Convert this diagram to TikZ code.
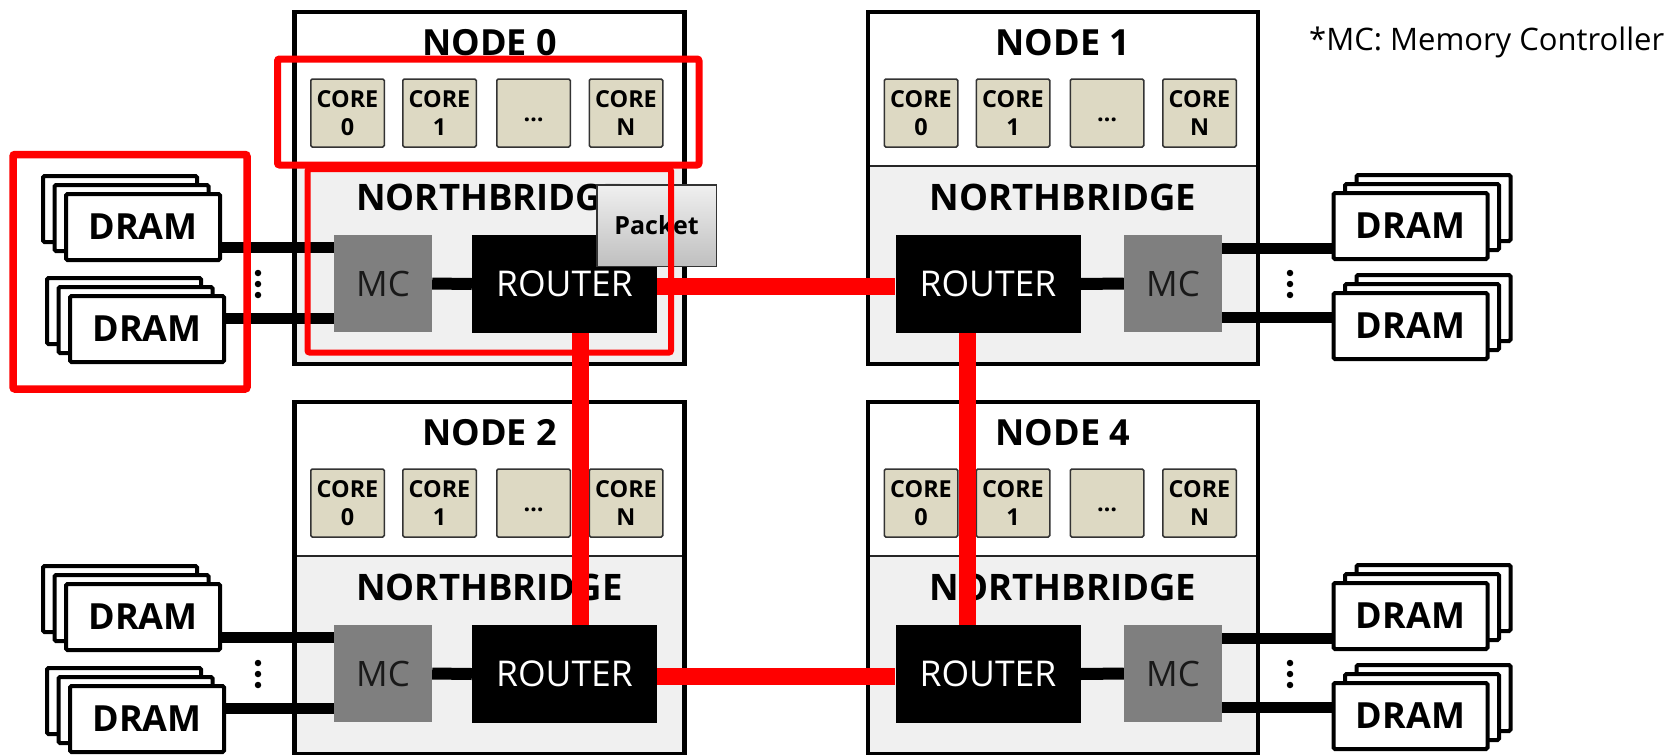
\documentclass[tikz,border=0pt]{standalone}
\usepackage{fontspec}
\setmainfont{Open Sans}
\usetikzlibrary{calc}
\definecolor{nbgray}{HTML}{F0F0F0}
\definecolor{mcgray}{HTML}{7F7F7F}
\definecolor{corefill}{HTML}{DDD9C3}
\definecolor{linkred}{HTML}{FF0000}
\tikzset{
  nodebox/.style={fill=white, minimum width=390pt, minimum height=352pt, inner sep=0pt},
  boxborder/.style={draw=black, line width=4.5pt},
  divline/.style={draw=black!85, line width=2pt},
  nodetitle/.style={font=\fontsize{36}{40}\selectfont\bfseries, inner sep=0pt},
  nbtitle/.style={font=\fontsize{36.5}{40}\selectfont\bfseries, inner sep=0pt},
  corebox/.style={draw=black!80, line width=1.5pt, fill=corefill, minimum width=73.5pt, minimum height=68pt, inner sep=0pt, rounded corners=1.5pt, align=center, font=\fontsize{23.4}{28.4}\selectfont\bfseries},
  coredots/.style={inner sep=0pt, font=\fontsize{23.4}{28.4}\selectfont\bfseries},
  mcbox/.style={fill=mcgray, minimum width=98pt, minimum height=97pt, inner sep=0pt, text=black!90, font=\fontsize{35}{40}\selectfont},
  routerbox/.style={fill=black, minimum width=185pt, minimum height=98pt, inner sep=0pt, text=white, font=\fontsize{35.5}{40}\selectfont},
  dramcard/.style={draw=black, line width=4pt, fill=white, minimum width=154pt, minimum height=66pt, inner sep=0pt, rounded corners=1.5pt, font=\fontsize{36}{40}\selectfont\bfseries},
  busline/.style={line width=11pt, draw=black},
  innerlink/.style={line width=12pt, draw=black},
  redlink/.style={line width=17pt, draw=linkred},
  redbox/.style={draw=linkred, rounded corners=2pt},
  dotmark/.style={circle, fill=black, inner sep=0pt, minimum size=6.5pt},
  packetbox/.style={draw=black!80, line width=1.5pt, top color=black!6, bottom color=black!25, minimum width=119.5pt, minimum height=81.5pt, inner sep=0pt, font=\fontsize{25}{30}\selectfont\bfseries},
  legendtext/.style={inner sep=0pt, font=\fontsize{31}{36}\selectfont},
}
\newcommand\leftsys[3]{%
\begin{scope}[shift={(0,#1)}]
  \node[nodebox] (#2box) at (489.5,188) {};
  \fill[nbgray] (294.5,166) rectangle (684.5,364);
  \draw[divline] (294.5,166) -- (684.5,166);
  \draw[boxborder] (#2box.north west) rectangle (#2box.south east);
  \node[nodetitle, anchor=base] (#2title) at (489.5,55) {NODE #3};
  \node[corebox] (#2c0) at (347.5,113) {CORE\\0};
  \node[corebox] (#2c1) at (439.5,113) {CORE\\1};
  \node[corebox] (#2c2) at (533.5,113) {};
  \node[coredots] (#2cd) at (533.5,120) {…};
  \node[corebox] (#2cn) at (626,113) {CORE\\N};
  \node[nbtitle, anchor=base] (#2nb) at (489.5,210.5) {NORTHBRIDGE};
  \node[mcbox] (#2mc) at (383,283.5) {MC};
  \node[routerbox] (#2r) at (564.5,284) {ROUTER};
  \draw[innerlink] (#2mc.east) -- (#2r.west);
  \node[dramcard] (#2ua) at (120,209) {};
  \node[dramcard] (#2ub) at (131.5,218) {};
  \node[dramcard] (#2uc) at (143,227) {DRAM};
  \node[dramcard] (#2la) at (124,311) {};
  \node[dramcard] (#2lb) at (135.5,320) {};
  \node[dramcard] (#2lc) at (147,329) {DRAM};
  \draw[busline] (#2uc.east |- 0,247.5) -- (#2mc.west |- 0,247.5);
  \draw[busline] (#2lc.east |- 0,318) -- (#2mc.west |- 0,318);
  \node[dotmark] (#2da) at (258,273) {};
  \node[dotmark] (#2db) at (258,284) {};
  \node[dotmark] (#2dc) at (258,295) {};
\end{scope}}
\newcommand\rightsys[3]{%
\begin{scope}[shift={(0,#1)}]
  \node[nodebox] (#2box) at (1063,188) {};
  \fill[nbgray] (868,166) rectangle (1258,364);
  \draw[divline] (868,166) -- (1258,166);
  \draw[boxborder] (#2box.north west) rectangle (#2box.south east);
  \node[nodetitle, anchor=base] (#2title) at (1063,55) {NODE #3};
  \node[corebox] (#2c0) at (921,113) {CORE\\0};
  \node[corebox] (#2c1) at (1013,113) {CORE\\1};
  \node[corebox] (#2c2) at (1107,113) {};
  \node[coredots] (#2cd) at (1107,120) {…};
  \node[corebox] (#2cn) at (1199.5,113) {CORE\\N};
  \node[nbtitle, anchor=base] (#2nb) at (1063,210.5) {NORTHBRIDGE};
  \node[routerbox] (#2r) at (988,284) {ROUTER};
  \node[mcbox] (#2mc) at (1173,283.5) {MC};
  \draw[innerlink] (#2r.east) -- (#2mc.west);
  \node[dramcard] (#2ua) at (1433.5,208) {};
  \node[dramcard] (#2ub) at (1422,217) {};
  \node[dramcard] (#2uc) at (1410.5,226) {DRAM};
  \node[dramcard] (#2la) at (1433.5,308) {};
  \node[dramcard] (#2lb) at (1422,317) {};
  \node[dramcard] (#2lc) at (1410.5,326) {DRAM};
  \draw[busline] (#2mc.east |- 0,248.5) -- (#2uc.west |- 0,248.5);
  \draw[busline] (#2mc.east |- 0,317) -- (#2lc.west |- 0,317);
  \node[dotmark] (#2da) at (1290,273) {};
  \node[dotmark] (#2db) at (1290,284) {};
  \node[dotmark] (#2dc) at (1290,295) {};
\end{scope}}
\begin{document}
\begin{tikzpicture}[x=1pt, y=-1pt]
  \useasboundingbox (0,0) rectangle (1671,755);
  \fill[white] (0,0) rectangle (1671,755);
  \leftsys{0}{n0}{0}
  \rightsys{0}{n1}{1}
  \leftsys{390}{n2}{2}
  \rightsys{390}{n4}{4}
  % red links between routers
  \draw[redlink] ([yshift=-2pt]n0r.east) -- ([yshift=-2pt]n1r.west);
  \draw[redlink] ([yshift=-2pt]n2r.east) -- ([yshift=-2pt]n4r.west);
  \draw[redlink] ([xshift=15.5pt]n0r.south) -- ([xshift=15.5pt]n2r.north);
  \draw[redlink] ([xshift=-21pt]n1r.south) -- ([xshift=-21pt]n4r.north);
  % packet
  \node[packetbox] (packet) at (656.5,225.5) {Packet};
  % red highlight boxes
  \draw[redbox, line width=7pt] (277.5,59) rectangle (699,165);
  \draw[redbox, line width=6pt] (307.5,169) rectangle (671,352.5);
  \draw[redbox, line width=7.5pt] (13,154.5) rectangle (247,389);
  % legend
  \node[legendtext, anchor=base west] (legend) at (1309,50) {*MC: Memory Controller};
\end{tikzpicture}
\end{document}
